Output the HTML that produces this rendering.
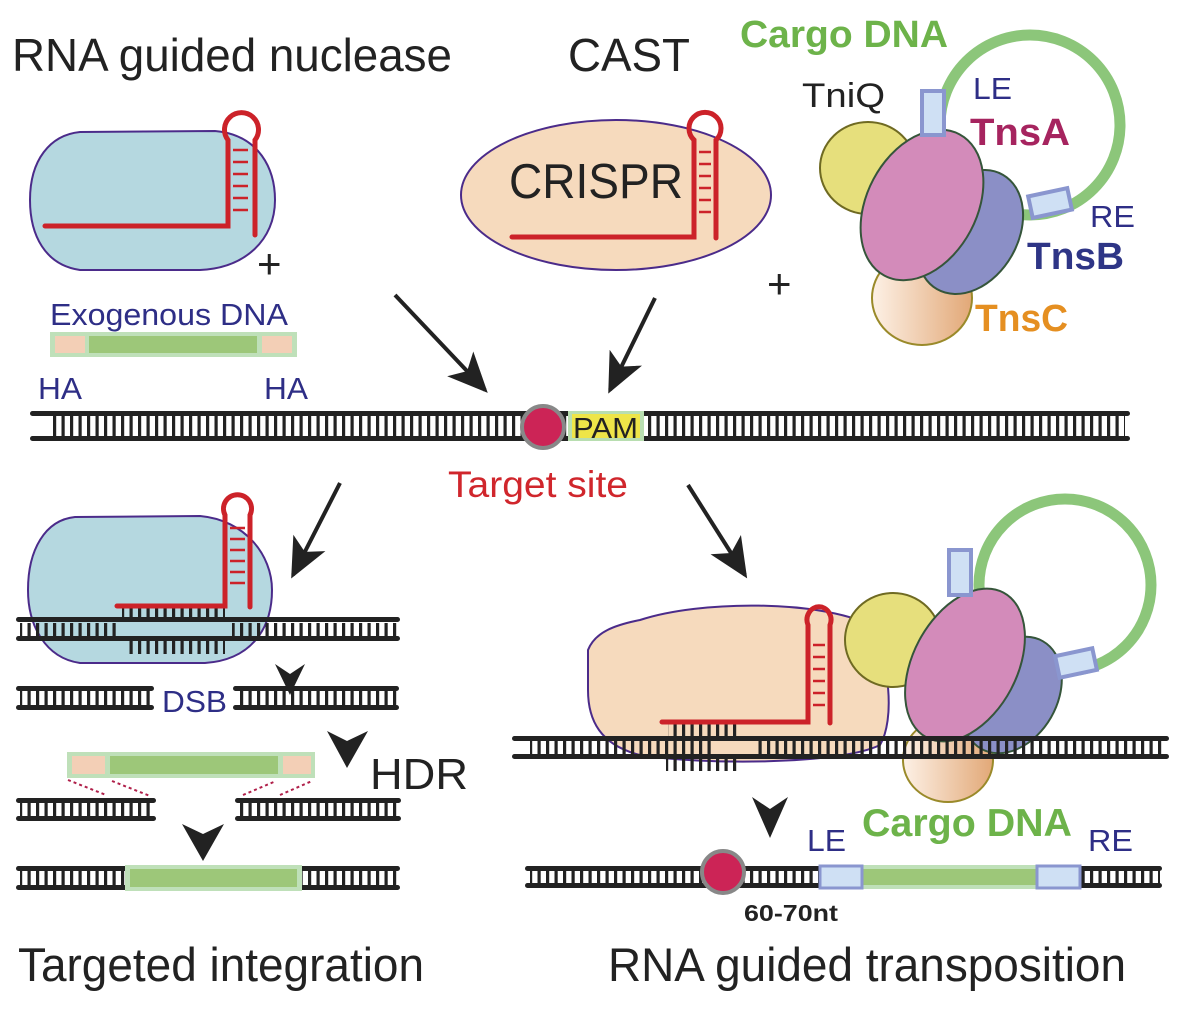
<!DOCTYPE html>
<html><head><meta charset="utf-8"><style>
html,body{margin:0;padding:0;background:#fff;}
svg{display:block;font-family:"Liberation Sans",Arial,sans-serif;}
</style></head><body>
<svg width="1200" height="1015" viewBox="0 0 1200 1015" xmlns="http://www.w3.org/2000/svg">
<defs>
<pattern id="rung" x="0" y="0" width="8.5" height="40" patternUnits="userSpaceOnUse">
<rect x="2" y="0" width="3.2" height="40" fill="#222"/>
</pattern>
<linearGradient id="org" x1="0" x2="1">
<stop offset="0" stop-color="#fdf1e6"/><stop offset="1" stop-color="#e2a877"/>
</linearGradient>
<marker id="ah" markerWidth="40" markerHeight="40" refX="9" refY="5" orient="auto" markerUnits="userSpaceOnUse" viewBox="0 0 10 10">
<path d="M0,0.5 L10,5 L0,9.5 L2.5,5 Z" fill="#222"/>
</marker>
</defs>

<!-- Titles -->
<text x="12" y="71" font-size="46" fill="#222" textLength="440" lengthAdjust="spacingAndGlyphs">RNA guided nuclease</text>
<text x="568" y="71" font-size="46" fill="#222" textLength="122" lengthAdjust="spacingAndGlyphs">CAST</text>
<text x="740" y="47" font-size="38" font-weight="bold" fill="#6db34a" textLength="208" lengthAdjust="spacingAndGlyphs">Cargo DNA</text>
<text x="802" y="107" font-size="34" fill="#222" textLength="83" lengthAdjust="spacingAndGlyphs">TniQ</text>

<!-- Top-left nuclease -->
<path d="M80,132 L215,131 C260,135 275,170 275,200 C275,240 245,268 200,270 L80,270 C45,265 30,235 30,200 C30,160 50,135 80,132 Z" fill="#b5d8e0" stroke="#4b2b8a" stroke-width="2"/>
<path d="M45,226 L228,226 L228,140 A17,17 0 1 1 255,140 L255,235" fill="none" stroke="#cc2229" stroke-width="5" stroke-linecap="round"/>
<g stroke="#cc2229" stroke-width="2.5">
<line x1="233" y1="150" x2="248" y2="150"/><line x1="233" y1="162" x2="248" y2="162"/><line x1="233" y1="174" x2="248" y2="174"/><line x1="233" y1="186" x2="248" y2="186"/><line x1="233" y1="198" x2="248" y2="198"/><line x1="233" y1="210" x2="248" y2="210"/>
</g>
<text x="257" y="278" font-size="42" fill="#222">+</text>
<text x="50" y="325" font-size="31" fill="#2e2e86" textLength="238" lengthAdjust="spacingAndGlyphs">Exogenous DNA</text>
<rect x="50" y="332" width="247" height="25" fill="#bfe0b9"/>
<rect x="55" y="336" width="30" height="17" fill="#f3cfb6"/>
<rect x="89" y="336" width="168" height="17" fill="#9dc779"/>
<rect x="262" y="336" width="30" height="17" fill="#f3cfb6"/>
<text x="38" y="399" font-size="31" fill="#2e2e86" textLength="44" lengthAdjust="spacingAndGlyphs">HA</text>
<text x="264" y="399" font-size="31" fill="#2e2e86" textLength="44" lengthAdjust="spacingAndGlyphs">HA</text>

<!-- CRISPR -->
<ellipse cx="616" cy="195" rx="155" ry="75" fill="#f6dabd" stroke="#4b2b8a" stroke-width="2"/>
<text x="509" y="198" font-size="49" fill="#222" textLength="174" lengthAdjust="spacingAndGlyphs">CRISPR</text>
<path d="M512,237 L694,237 L694,140 A16,16 0 1 1 716,140 L716,238" fill="none" stroke="#cc2229" stroke-width="5" stroke-linecap="round"/>
<g stroke="#cc2229" stroke-width="2.5">
<line x1="699" y1="152" x2="711" y2="152"/><line x1="699" y1="164" x2="711" y2="164"/><line x1="699" y1="176" x2="711" y2="176"/><line x1="699" y1="188" x2="711" y2="188"/><line x1="699" y1="200" x2="711" y2="200"/><line x1="699" y1="212" x2="711" y2="212"/>
</g>

<!-- arrows to target -->
<line x1="395" y1="295" x2="485" y2="390" stroke="#222" stroke-width="4" marker-end="url(#ah)"/>
<line x1="655" y1="298" x2="610" y2="390" stroke="#222" stroke-width="4" marker-end="url(#ah)"/>
<text x="767" y="298" font-size="42" fill="#222">+</text>

<!-- Top-right CAST complex -->
<circle cx="1030" cy="125" r="90" fill="none" stroke="#8cc67a" stroke-width="11"/>
<ellipse cx="868" cy="168" rx="48" ry="46" fill="#e6df7c" stroke="#6f6a22" stroke-width="2"/>
<ellipse cx="922" cy="298" rx="50" ry="47" fill="url(#org)" stroke="#9a8a2a" stroke-width="2"/>
<ellipse cx="970" cy="232" rx="48" ry="66" transform="rotate(30 970 232)" fill="#8b8fc6" stroke="#35553a" stroke-width="2"/>
<ellipse cx="922" cy="205" rx="55" ry="80" transform="rotate(28 922 205)" fill="#d38bba" stroke="#35553a" stroke-width="2"/>
<rect x="922" y="91" width="22" height="44" fill="#cfe0f4" stroke="#8a96cf" stroke-width="4"/>
<rect x="1030" y="192" width="40" height="22" transform="rotate(-12 1050 203)" fill="#cfe0f4" stroke="#8a96cf" stroke-width="4"/>
<text x="973" y="99" font-size="31" fill="#2e2e86" textLength="39" lengthAdjust="spacingAndGlyphs">LE</text>
<text x="970" y="145" font-size="38" font-weight="bold" fill="#a6245f" textLength="100" lengthAdjust="spacingAndGlyphs">TnsA</text>
<text x="1090" y="227" font-size="31" fill="#2e2e86" textLength="45" lengthAdjust="spacingAndGlyphs">RE</text>
<text x="1027" y="269" font-size="38" font-weight="bold" fill="#2e3586" textLength="97" lengthAdjust="spacingAndGlyphs">TnsB</text>
<text x="975" y="331" font-size="38" font-weight="bold" fill="#e58f21" textLength="93" lengthAdjust="spacingAndGlyphs">TnsC</text>

<!-- Main DNA -->
<rect x="50" y="416" width="1075" height="20" fill="url(#rung)"/>
<rect x="30" y="411" width="1100" height="5" rx="2.5" fill="#222"/>
<rect x="30" y="436" width="1100" height="5" rx="2.5" fill="#222"/>
<rect x="568" y="411" width="76" height="30" fill="#b8deb0"/>
<rect x="572" y="414" width="68" height="24" fill="#eee548"/>
<text x="573" y="438" font-size="29" fill="#222" textLength="65" lengthAdjust="spacingAndGlyphs">PAM</text>
<circle cx="543" cy="427" r="21" fill="#cc2456" stroke="#888" stroke-width="4"/>
<text x="448" y="497" font-size="37" fill="#d0262c" textLength="180" lengthAdjust="spacingAndGlyphs">Target site</text>

<!-- Bottom-left -->
<line x1="340" y1="483" x2="293" y2="575" stroke="#222" stroke-width="4" marker-end="url(#ah)"/>
<path d="M75,517 L200,516 C245,520 272,555 272,590 C272,630 250,660 205,663 L80,663 C45,658 28,625 28,590 C28,550 45,520 75,517 Z" fill="#b5d8e0" stroke="#4b2b8a" stroke-width="2"/>
<rect x="122" y="608" width="103" height="11" fill="url(#rung)"/>
<rect x="125" y="640" width="100" height="14" fill="url(#rung)"/>
<rect x="20" y="623" width="100" height="14" fill="url(#rung)"/>
<rect x="232" y="623" width="165" height="14" fill="url(#rung)"/>
<rect x="16" y="617" width="384" height="5" rx="2.5" fill="#222"/>
<rect x="16" y="636" width="384" height="5" rx="2.5" fill="#222"/>
<path d="M117,606 L225,606 L225,515 A14,14 0 1 1 250,515 L250,607" fill="none" stroke="#cc2229" stroke-width="5" stroke-linecap="round"/>
<g stroke="#cc2229" stroke-width="2.5">
<line x1="230" y1="528" x2="245" y2="528"/><line x1="230" y1="539" x2="245" y2="539"/><line x1="230" y1="550" x2="245" y2="550"/><line x1="230" y1="561" x2="245" y2="561"/><line x1="230" y1="572" x2="245" y2="572"/><line x1="230" y1="583" x2="245" y2="583"/>
</g>
<path d="M275,664 L290,674 L305,664 L290,695 Z" fill="#222"/>

<!-- DSB row -->
<rect x="20" y="690" width="132" height="16" fill="url(#rung)"/>
<rect x="237" y="690" width="160" height="16" fill="url(#rung)"/>
<rect x="16" y="686" width="138" height="5" rx="2.5" fill="#222"/>
<rect x="16" y="705" width="138" height="5" rx="2.5" fill="#222"/>
<rect x="233" y="686" width="166" height="5" rx="2.5" fill="#222"/>
<rect x="233" y="705" width="166" height="5" rx="2.5" fill="#222"/>
<text x="162" y="712" font-size="31" fill="#2e2e86" textLength="65" lengthAdjust="spacingAndGlyphs">DSB</text>

<path d="M327,731 L347,741 L368,731 L347,768 Z" fill="#222"/>
<text x="370" y="789" font-size="44" fill="#222" textLength="98" lengthAdjust="spacingAndGlyphs">HDR</text>
<rect x="67" y="752" width="248" height="26" fill="#bfe0b9"/>
<rect x="72" y="756" width="33" height="18" fill="#f3cfb6"/>
<rect x="110" y="756" width="168" height="18" fill="#9dc779"/>
<rect x="283" y="756" width="28" height="18" fill="#f3cfb6"/>
<g stroke="#b0204a" stroke-width="2" stroke-dasharray="3,3">
<line x1="68" y1="780" x2="106" y2="795"/><line x1="112" y1="781" x2="150" y2="796"/>
<line x1="243" y1="795" x2="276" y2="781"/><line x1="280" y1="795" x2="312" y2="781"/>
</g>
<rect x="20" y="801" width="132" height="16" fill="url(#rung)"/>
<rect x="239" y="801" width="158" height="16" fill="url(#rung)"/>
<rect x="16" y="798" width="140" height="5" rx="2.5" fill="#222"/>
<rect x="16" y="816" width="140" height="5" rx="2.5" fill="#222"/>
<rect x="235" y="798" width="166" height="5" rx="2.5" fill="#222"/>
<rect x="235" y="816" width="166" height="5" rx="2.5" fill="#222"/>
<path d="M182,824 L203,834 L224,824 L203,861 Z" fill="#222"/>
<rect x="20" y="870" width="105" height="16" fill="url(#rung)"/>
<rect x="302" y="870" width="95" height="16" fill="url(#rung)"/>
<rect x="16" y="866" width="384" height="5" rx="2.5" fill="#222"/>
<rect x="16" y="885" width="384" height="5" rx="2.5" fill="#222"/>
<rect x="125" y="865" width="177" height="26" fill="#bfe0b9"/>
<rect x="130" y="869" width="167" height="18" fill="#9dc779"/>
<text x="18" y="981" font-size="47" fill="#222" textLength="406" lengthAdjust="spacingAndGlyphs">Targeted integration</text>

<!-- Bottom-right -->
<line x1="688" y1="485" x2="745" y2="575" stroke="#222" stroke-width="4" marker-end="url(#ah)"/>
<circle cx="1065" cy="585" r="86" fill="none" stroke="#8cc67a" stroke-width="11"/>
<path d="M640,620 C700,600 820,600 870,625 C890,660 895,720 880,745 C840,765 700,765 640,755 C600,745 588,720 588,690 L588,650 C595,632 615,625 640,620 Z" fill="#f6dabd" stroke="#4b2b8a" stroke-width="2"/>
<ellipse cx="893" cy="640" rx="48" ry="47" fill="#e6df7c" stroke="#6f6a22" stroke-width="2"/>
<ellipse cx="948" cy="760" rx="45" ry="42" fill="url(#org)" stroke="#9a8a2a" stroke-width="2"/>
<ellipse cx="1012" cy="695" rx="45" ry="62" transform="rotate(30 1012 695)" fill="#8b8fc6" stroke="#35553a" stroke-width="2"/>
<ellipse cx="965" cy="665" rx="52" ry="82" transform="rotate(28 965 665)" fill="#d38bba" stroke="#35553a" stroke-width="2"/>
<rect x="949" y="550" width="22" height="45" fill="#cfe0f4" stroke="#8a96cf" stroke-width="4"/>
<rect x="1057" y="652" width="38" height="22" transform="rotate(-12 1076 663)" fill="#cfe0f4" stroke="#8a96cf" stroke-width="4"/>
<rect x="530" y="740" width="185" height="15" fill="url(#rung)"/>
<rect x="757" y="740" width="407" height="15" fill="url(#rung)"/>
<rect x="668" y="724" width="70" height="12" fill="url(#rung)"/>
<rect x="666" y="757" width="72" height="14" fill="url(#rung)"/>
<rect x="512" y="736" width="657" height="5" rx="2.5" fill="#222"/>
<rect x="512" y="754" width="657" height="5" rx="2.5" fill="#222"/>
<path d="M662,722 L808,722 L808,625 A12,13 0 1 1 830,625 L830,723" fill="none" stroke="#cc2229" stroke-width="5" stroke-linecap="round"/>
<g stroke="#cc2229" stroke-width="2.5">
<line x1="813" y1="645" x2="825" y2="645"/><line x1="813" y1="657" x2="825" y2="657"/><line x1="813" y1="669" x2="825" y2="669"/><line x1="813" y1="681" x2="825" y2="681"/><line x1="813" y1="693" x2="825" y2="693"/><line x1="813" y1="705" x2="825" y2="705"/>
</g>
<path d="M752,797 L770,809 L788,797 L770,838 Z" fill="#222"/>
<text x="862" y="836" font-size="39" font-weight="bold" fill="#6db34a" textLength="210" lengthAdjust="spacingAndGlyphs">Cargo DNA</text>
<text x="807" y="851" font-size="31" fill="#2e2e86" textLength="39" lengthAdjust="spacingAndGlyphs">LE</text>
<text x="1088" y="851" font-size="31" fill="#2e2e86" textLength="45" lengthAdjust="spacingAndGlyphs">RE</text>
<rect x="530" y="870" width="630" height="14" fill="url(#rung)"/>
<rect x="525" y="866" width="637" height="5" rx="2.5" fill="#222"/>
<rect x="525" y="883" width="637" height="5" rx="2.5" fill="#222"/>
<rect x="862" y="865" width="175" height="24" fill="#bfe0b9"/>
<rect x="862" y="869" width="175" height="16" fill="#9dc779"/>
<rect x="820" y="866" width="42" height="22" fill="#cfe0f4" stroke="#8a96cf" stroke-width="3"/>
<rect x="1037" y="866" width="43" height="22" fill="#cfe0f4" stroke="#8a96cf" stroke-width="3"/>
<circle cx="723" cy="872" r="21" fill="#cc2456" stroke="#888" stroke-width="4"/>
<text x="744" y="921" font-size="23" font-weight="bold" fill="#222" textLength="94" lengthAdjust="spacingAndGlyphs">60-70nt</text>
<text x="608" y="981" font-size="47" fill="#222" textLength="518" lengthAdjust="spacingAndGlyphs">RNA guided transposition</text>
</svg>
</body></html>
